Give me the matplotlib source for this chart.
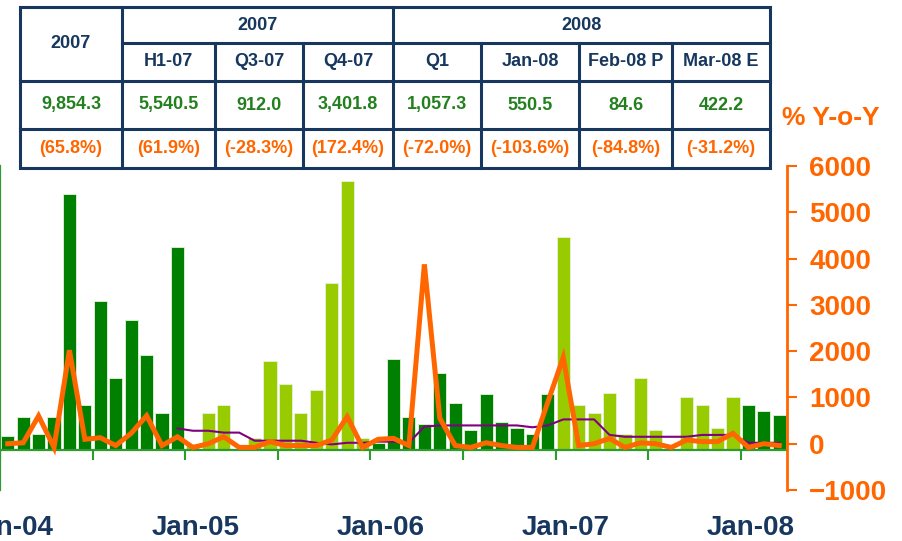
import numpy as np
import matplotlib
matplotlib.use('Agg')
import matplotlib.pyplot as plt

plt.rcParams['font.family'] = ['Liberation Sans', 'DejaVu Sans']
plt.rcParams['font.weight'] = 'bold'

# monthly volume, Jan-04 .. Mar-08 (left axis, labels cut off in the original)
months = ['Jan-04', 'Feb-04', 'Mar-04', 'Apr-04', 'May-04', 'Jun-04', 'Jul-04', 'Aug-04', 'Sep-04', 'Oct-04', 'Nov-04', 'Dec-04',
          'Jan-05', 'Feb-05', 'Mar-05', 'Apr-05', 'May-05', 'Jun-05', 'Jul-05', 'Aug-05', 'Sep-05', 'Oct-05', 'Nov-05', 'Dec-05',
          'Jan-06', 'Feb-06', 'Mar-06', 'Apr-06', 'May-06', 'Jun-06', 'Jul-06', 'Aug-06', 'Sep-06', 'Oct-06', 'Nov-06', 'Dec-06',
          'Jan-07', 'Feb-07', 'Mar-07', 'Apr-07', 'May-07', 'Jun-07', 'Jul-07', 'Aug-07', 'Sep-07', 'Oct-07', 'Nov-07', 'Dec-07',
          'Jan-08', 'Feb-08', 'Mar-08']
volume = [165, 400, 190, 400, 3150, 545, 1830, 880, 1595, 1165, 450, 2500,
          70, 450, 545, 0, 145, 1095, 810, 450, 735, 2050, 3310, 145,
          80, 1115, 400, 310, 950, 570, 240, 685, 335, 260, 190, 685,
          2620, 550, 455, 695, 195, 885, 245, 0, 650, 550, 265, 650,
          550.5, 475, 422.2]
# % Y-o-Y (right axis)
yoy = [0, 20, 600, -80, 2020, 95, 130, -40, 225, 605, -40, 150,
       -80, 0, 150, -80, -80, 45, -40, -40, -40, 80, 585, -80,
       95, 115, -40, 3875, 550, -40, -80, 20, -40, -80, -80, 900,
       1865, -40, 0, 115, -80, 20, 0, -80, 80, 45, 45, 225,
       -80, 0, -40]
# 12-month line, starts Dec-04
avg12 = [330, 280, 280, 240, 240, 65, 65, 65, 65, 20, -15, 20, 20,
         45, 45, 20, 370, 395, 395, 395, 395, 395, 395, 355, 395,
         525, 525, 525, 190, 150, 150, 150, 150, 150, 190, 190, 190,
         20, 20, 20]

year_labels = ['Jan-04', 'Jan-05', 'Jan-06', 'Jan-07', 'Jan-08']

# table
tbl_heads = ['H1-07', 'Q3-07', 'Q4-07', 'Q1', 'Jan-08', 'Feb-08 P', 'Mar-08 E']
tbl_vals = ['9,854.3', '5,540.5', '912.0', '3,401.8', '1,057.3', '550.5', '84.6', '422.2']
tbl_pcts = ['(65.8%)', '(61.9%)', '(-28.3%)', '(172.4%)', '(-72.0%)', '(-103.6%)', '(-84.8%)', '(-31.2%)']

dark = '#008000'
light = '#99CC00'
orange = '#FF6600'
purple = '#800080'
navy = '#17375E'
axgreen = '#2E9B2E'
txtgreen = '#23801E'

x = np.arange(len(months))
colors = [light if m.endswith('05') or m.endswith('07') else dark for m in months]

fig = plt.figure(figsize=(9.03, 5.41), dpi=100)
ax = fig.add_axes([0, 51/541, 787/903, 324/541])

ax.bar(x, volume, width=0.85, color=colors, edgecolor='#e6f2dc', linewidth=0.6)
ax.set_xlim(-0.5, len(months) - 0.5)
ax.set_ylim(-500, 3500)
ax.spines['top'].set_visible(False)
ax.spines['right'].set_visible(False)
ax.spines['bottom'].set_position(('data', 0))
ax.spines['bottom'].set_color(axgreen)
ax.spines['bottom'].set_linewidth(1.6)
ax.spines['left'].set_color(axgreen)
ax.spines['left'].set_linewidth(1.6)
ax.set_xticks(np.arange(-0.5, len(months), 6))
ax.tick_params(axis='x', direction='out', length=7, width=1.5, color=axgreen, labelbottom=False)
ax.set_yticks(np.arange(-500, 3501, 500))
ax.tick_params(axis='y', direction='out', length=4, width=1.2, color=axgreen, labelleft=False)

for lab in year_labels:
    ax.text(months.index(lab) + 0.15, -0.117, lab, transform=ax.get_xaxis_transform(),
            ha='center', va='center', fontsize=20, fontweight='bold', color=navy)

ax2 = ax.twinx()
ax2.plot(x[11:], avg12, color=purple, lw=1.5)
ax2.plot(x, yoy, color=orange, lw=3.6, solid_joinstyle='miter')
ax2.set_ylim(-1000, 6000)
for s in ['top', 'left', 'bottom']:
    ax2.spines[s].set_visible(False)
ax2.spines['right'].set_color(orange)
ax2.spines['right'].set_linewidth(2)
ax2.set_yticks(np.arange(-1000, 6001, 1000))
ax2.tick_params(axis='y', direction='out', length=7, width=1.5, color=orange, pad=9,
                labelsize=20, labelcolor=orange)
for t in ax2.get_yticklabels():
    t.set_fontweight('bold')

fig.text(782/903, 1 - 118/541, '% Y-o-Y', ha='left', va='center', fontsize=19,
         fontweight='bold', color=orange)

# table overlay in pixel coordinates
ov = fig.add_axes([0, 0, 1, 1])
ov.set_xlim(0, 903)
ov.set_ylim(541, 0)
ov.axis('off')
cols = [20, 122, 215, 303, 393, 481, 579, 672, 770]
rows = [7, 43, 81, 129, 168]
lw = 2.2
ov.plot([cols[0], cols[-1], cols[-1], cols[0], cols[0]], [rows[0], rows[0], rows[-1], rows[-1], rows[0]],
        color=navy, lw=lw, solid_joinstyle='miter')
ov.plot([cols[1], cols[-1]], [rows[1], rows[1]], color=navy, lw=lw)
for r in rows[2:4]:
    ov.plot([cols[0], cols[-1]], [r, r], color=navy, lw=lw)
for c in cols[1:-1]:
    top = rows[0] if c in (cols[1], cols[4]) else rows[1]
    ov.plot([c, c], [top, rows[-1]], color=navy, lw=lw)

fs = 13
ov.text((cols[0] + cols[1]) / 2, (rows[0] + rows[2]) / 2, '2007', ha='center', va='center',
        fontsize=fs, fontweight='bold', color=navy)
ov.text((cols[1] + cols[4]) / 2, (rows[0] + rows[1]) / 2, '2007', ha='center', va='center',
        fontsize=fs, fontweight='bold', color=navy)
ov.text((cols[4] + cols[8]) / 2, (rows[0] + rows[1]) / 2, '2008', ha='center', va='center',
        fontsize=fs, fontweight='bold', color=navy)
for i, h in enumerate(tbl_heads):
    ov.text((cols[i + 1] + cols[i + 2]) / 2, (rows[1] + rows[2]) / 2, h, ha='center', va='center',
            fontsize=fs, fontweight='bold', color=navy)
for i in range(len(tbl_vals)):
    cx = (cols[i] + cols[i + 1]) / 2
    ov.text(cx, (rows[2] + rows[3]) / 2, tbl_vals[i], ha='center', va='center',
            fontsize=fs, fontweight='bold', color=txtgreen)
    ov.text(cx, (rows[3] + rows[4]) / 2, tbl_pcts[i], ha='center', va='center',
            fontsize=fs, fontweight='bold', color=orange)

fig.savefig('out.png', dpi=100)
